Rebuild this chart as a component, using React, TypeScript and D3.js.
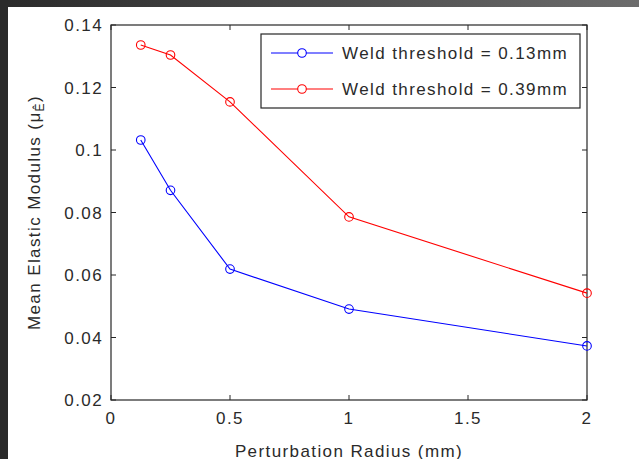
import React from "react";
import * as d3 from "d3";

const radii = [0.125, 0.25, 0.5, 1, 2];
const weld013 = [0.1032, 0.0871, 0.0619, 0.0491, 0.0373];
const weld039 = [0.1336, 0.1304, 0.1154, 0.0786, 0.0542];
const xTicks = [0, 0.5, 1, 1.5, 2];
const yTicks = [0.02, 0.04, 0.06, 0.08, 0.1, 0.12, 0.14];
const seriesNames = ["Weld threshold = 0.13mm", "Weld threshold = 0.39mm"];
const seriesColors = ["#0000ff", "#ff0000"];

const W = 639;
const H = 459;
const L = 111, R = 587, T = 25, B = 400;

export default function App() {
  const x = d3.scaleLinear().domain([0, 2]).range([L, R]);
  const y = d3.scaleLinear().domain([0.02, 0.14]).range([B, T]);
  const line = d3
    .line<number>()
    .x((_, i) => x(radii[i]))
    .y((d) => y(d));
  const series = [weld013, weld039];
  const font = "'Liberation Sans', Arial, Helvetica, sans-serif";
  const fs = 17;
  const ls = 1.4;
  const tickLen = 5;
  const txt = "#2a2a2a";
  const fmt = (v: number) => String(+v.toFixed(2));
  return (
    <svg
      width={W}
      height={H}
      style={{ position: "absolute", left: 0, top: 0 }}
      fontFamily={font}
    >
      <defs>
        <linearGradient id="band" x1="0" x2="1" y1="0" y2="0">
          <stop offset="0" stopColor="#2a2a2a" />
          <stop offset="1" stopColor="#6c6c6c" />
        </linearGradient>
      </defs>
      <rect x={0} y={0} width={W} height={H} fill="#ffffff" />
      <text x={321} y={3} fontSize={fs} textAnchor="middle" fill={txt}>
        g
      </text>
      <rect x={0} y={0} width={W} height={7} fill="url(#band)" />
      <rect x={0} y={0} width={8} height={H} fill="#2a2a2a" />

      {/* axes box */}
      <rect x={L} y={T} width={R - L} height={B - T} fill="none" stroke="#262626" strokeWidth={1.2} />
      {xTicks.map((t) => (
        <g key={"xt" + t}>
          <line x1={x(t)} x2={x(t)} y1={B} y2={B - tickLen} stroke="#262626" />
          <line x1={x(t)} x2={x(t)} y1={T} y2={T + tickLen} stroke="#262626" />
          <text
            x={x(t)}
            y={B + 24}
            fontSize={fs}
            textAnchor="middle"
            fill={txt}
            letterSpacing={ls}
          >
            {fmt(t)}
          </text>
        </g>
      ))}
      {yTicks.map((t) => (
        <g key={"yt" + t}>
          <line x1={L} x2={L + tickLen} y1={y(t)} y2={y(t)} stroke="#262626" />
          <line x1={R} x2={R - tickLen} y1={y(t)} y2={y(t)} stroke="#262626" />
          <text
            x={L - 8}
            y={y(t) + 6}
            fontSize={fs}
            textAnchor="end"
            fill={txt}
            letterSpacing={ls}
          >
            {fmt(t)}
          </text>
        </g>
      ))}

      {/* series */}
      {series.map((s, k) => (
        <g key={"s" + k}>
          <path d={line(s) || ""} fill="none" stroke={seriesColors[k]} strokeWidth={1.1} />
          {s.map((v, i) => (
            <circle
              key={i}
              cx={x(radii[i])}
              cy={y(v)}
              r={4.3}
              fill="none"
              stroke={seriesColors[k]}
              strokeWidth={1.1}
            />
          ))}
        </g>
      ))}

      {/* legend */}
      <rect x={261} y={34} width={319} height={74} fill="#ffffff" stroke="#262626" strokeWidth={1.2} />
      {seriesNames.map((n, k) => {
        const ly = 53 + k * 36;
        return (
          <g key={"lg" + k}>
            <line x1={271} x2={333} y1={ly} y2={ly} stroke={seriesColors[k]} strokeWidth={1.1} />
            <circle cx={302} cy={ly} r={4.3} fill="#fff" stroke={seriesColors[k]} strokeWidth={1.1} />
            <text x={342} y={ly + 6} fontSize={fs} fill={txt} letterSpacing={ls}>
              {n}
            </text>
          </g>
        );
      })}

      {/* axis titles */}
      <text
        x={(L + R) / 2}
        y={457}
        fontSize={fs}
        textAnchor="middle"
        fill={txt}
        letterSpacing={ls}
      >
        Perturbation Radius (mm)
      </text>
      <text
        transform={`translate(40,${(T + B) / 2}) rotate(-90)`}
        fontSize={fs}
        textAnchor="middle"
        fill={txt}
        letterSpacing={ls}
      >
        Mean Elastic Modulus (μ
        <tspan fontSize={12} dy={4}>Ê</tspan>
        <tspan dy={-4}>)</tspan>
      </text>
    </svg>
  );
}
